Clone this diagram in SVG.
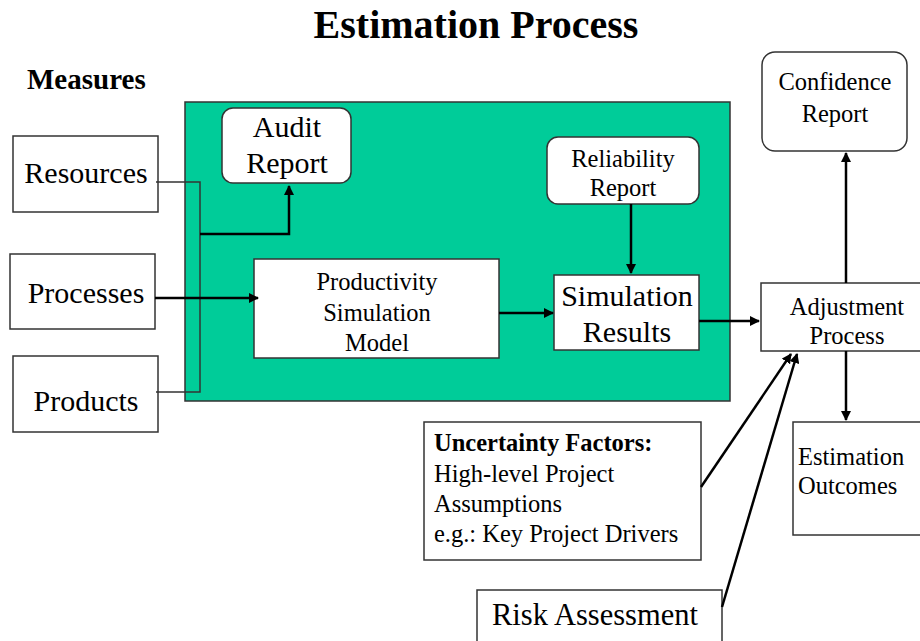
<svg xmlns="http://www.w3.org/2000/svg" width="920" height="641" viewBox="0 0 920 641">
<style>
text{font-family:"Liberation Serif","Times New Roman",serif;fill:#000}
.box{fill:#fff;stroke:#333;stroke-width:1.5}
.big{font-size:30px}
.med{font-size:24.5px}
.c{text-anchor:middle}
.ln{fill:none;stroke:#000;stroke-width:2.5}
.thin{fill:none;stroke:#333;stroke-width:1.5}
</style>
<defs>
<marker id="ah" viewBox="0 0 10 10" refX="9" refY="5" markerWidth="4" markerHeight="4" orient="auto" markerUnits="strokeWidth">
<path d="M0,0 L10,5 L0,10 z" fill="#000"/>
</marker>
</defs>
<rect width="920" height="641" fill="#fff"/>
<text x="476" y="38" class="c" style="font-size:40px;font-weight:bold">Estimation Process</text>
<text x="27" y="89" style="font-size:29px;font-weight:bold">Measures</text>
<rect x="185" y="102" width="545" height="299" fill="#00CC99" stroke="#333" stroke-width="1.5"/>

<g id="resources"><rect class="box" x="13" y="136" width="145" height="76"/><text x="86" y="183" class="c big">Resources</text></g>
<g id="processes"><rect class="box" x="10" y="254" width="145" height="75"/><text x="86" y="303" class="c big">Processes</text></g>
<g id="products"><rect class="box" x="13" y="356" width="145" height="76"/><text x="86" y="411" class="c big">Products</text></g>
<g id="audit"><rect class="box" x="222" y="108" width="129" height="75" rx="11"/><text x="287" y="137" class="c big">Audit</text><text x="287" y="173" class="c big">Report</text></g>
<g id="productivity"><rect class="box" x="254" y="259" width="245" height="99"/><text x="377" y="290" class="c med">Productivity</text><text x="377" y="321" class="c med">Simulation</text><text x="377" y="351" class="c med">Model</text></g>
<g id="reliability"><rect class="box" x="547" y="137" width="152" height="67" rx="11"/><text x="623" y="167" class="c med">Reliability</text><text x="623" y="196" class="c med">Report</text></g>
<g id="simresults"><rect class="box" x="554" y="275" width="145" height="75"/><text x="627" y="306" class="c big">Simulation</text><text x="627" y="342" class="c big">Results</text></g>
<g id="confidence"><rect class="box" x="762" y="52" width="145" height="99" rx="13"/><text x="835" y="90" class="c med">Confidence</text><text x="835" y="122" class="c med">Report</text></g>
<g id="adjustment"><rect class="box" x="761" y="283" width="170" height="68"/><text x="847" y="315" class="c med">Adjustment</text><text x="847" y="344" class="c med">Process</text></g>
<g id="outcomes"><rect class="box" x="793" y="422" width="140" height="113"/><text x="798" y="465" class="med">Estimation</text><text x="798" y="494" class="med">Outcomes</text></g>
<g id="uncertainty"><rect class="box" x="424" y="422" width="277" height="138"/><text x="434" y="451" class="med" style="font-weight:bold">Uncertainty Factors:</text><text x="434" y="482" class="med">High-level Project</text><text x="434" y="512" class="med">Assumptions</text><text x="434" y="542" class="med">e.g.: Key Project Drivers</text></g>
<g id="risk"><rect class="box" x="477" y="590" width="245" height="70"/><text x="492" y="625" style="font-size:30.5px">Risk Assessment</text></g>

<g id="connectors">
<path class="thin" d="M156,182 H200 V392 H156"/>
<path class="ln" d="M200,234 H289 V186" stroke-width="2" marker-end="url(#ah)"/>
<path class="ln" d="M155,298 H258" stroke-width="3" marker-end="url(#ah)"/>
<path class="ln" d="M499,313 H553" marker-end="url(#ah)"/>
<path class="ln" d="M631,204 V273" marker-end="url(#ah)"/>
<path class="ln" d="M699,321 H759" marker-end="url(#ah)"/>
<path class="ln" d="M846,283 V153" marker-end="url(#ah)"/>
<path class="ln" d="M846,351 V420" marker-end="url(#ah)"/>
<path class="ln" d="M701,487 L791,354" stroke-width="2" marker-end="url(#ah)"/>
<path class="ln" d="M722,607 L797,354" stroke-width="2" marker-end="url(#ah)"/>
</g>
</svg>
